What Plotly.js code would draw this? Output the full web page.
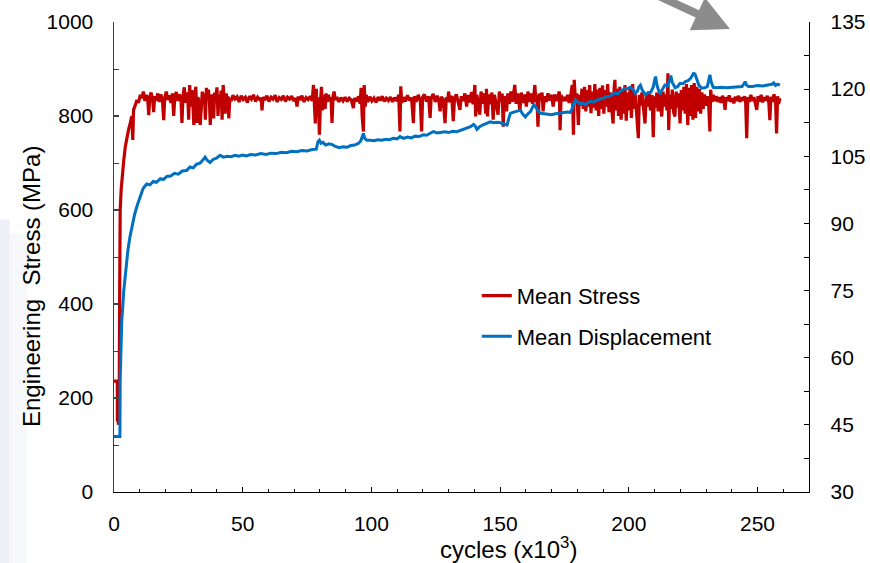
<!DOCTYPE html>
<html>
<head>
<meta charset="utf-8">
<script src="https://cdn.plot.ly/plotly-3.0.1.min.js"></script>
<style>html,body{margin:0;padding:0;background:#fff;}#chart{width:870px;height:563px;}</style>
</head>
<body>
<div id="chart"></div>
<script>
// Mean Stress (MPa) vs cycles (x10^3), [cycles, MPa]
const stressRise = [[0,236],[1.3,236],[1.3,150],[1.5,178],[1.7,143],[2.0,165],[2.2,420],[2.4,600],[2.8,645],[3.3,680],[3.8,706],[4.4,735],[5.0,756],[5.7,772],[6.3,784],[6.9,800],[7.3,749],[7.6,813],[8.2,822],[8.9,834],[9.5,828],[10.2,845]];
const stressEarly = [[10.8,838],[11.4,852],[12.0,832],[12.6,845],[13.1,836],[13.5,802],[13.9,840],[14.4,850],[15.0,836],[15.4,808],[15.8,842],[16.4,833],[17.0,848],[17.6,830],[18.2,846],[18.8,835],[19.3,791],[19.7,838],[20.3,852],[20.9,834],[21.5,844],[22.1,828],[22.7,848],[23.2,800],[23.6,840],[24.2,851],[24.8,832],[25.4,846],[26.0,838],[26.4,785],[26.8,842],[27.3,861],[27.8,828],[28.3,850],[28.7,836],[29.0,792],[29.4,866],[29.8,820],[30.2,855],[30.6,832],[31.0,781],[31.4,848],[31.8,862],[32.2,785],[32.6,840],[33.0,830],[33.5,781],[33.9,838],[34.3,852],[34.7,826],[35.1,848],[35.5,792],[35.9,860],[36.3,834],[36.7,856],[37.1,828],[37.4,781],[37.8,846],[38.2,832],[38.7,795],[39.1,850],[39.5,836],[40.0,861],[40.4,800],[40.8,845],[41.2,828],[41.6,854],[42.0,792],[42.4,866],[42.8,834],[43.2,805],[43.6,848],[44.0,832],[44.3,842],[44.6,795],[45.0,838]];
const stressMid = [[45.5,832],[46.2,844],[47,836],[47.8,841],[48.6,830],[49.4,843],[50.2,835],[51,840],[51.8,829],[52.6,842],[53.4,836],[54.2,845],[55,831],[55.8,840],[56.6,835],[57.2,838],[57.5,812],[57.9,840],[58.6,834],[59.4,843],[60.2,831],[61,840],[61.8,836],[62.6,844],[63.4,830],[64.2,839],[65,835],[65.8,843],[66.6,831],[67.4,840],[68.2,836],[69,842],[69.8,832],[70.6,838],[71.1,820],[71.5,841],[72.2,834],[73,843],[73.8,830],[74.6,839],[75.4,835],[76.2,842],[77,832],[77.5,866],[77.9,820],[78.2,784],[78.6,858],[78.9,800],[79.3,840],[79.8,760],[80.2,830],[80.6,862],[81.0,812],[81.5,845],[82.0,815],[82.4,848],[82.8,830],[83.3,845],[83.8,832],[84.3,840],[84.7,785],[85.1,842],[85.5,852],[86.0,834],[86.6,840]];
const stressLate = [[87.4,830],[88.2,839],[89,832],[89.8,840],[90.6,831],[91.4,838],[92.2,834],[93,817],[93.4,838],[94.2,831],[95,842],[95.6,826],[96.0,860],[96.4,800],[96.9,767],[97.2,866],[97.6,820],[98.0,845],[98.6,830],[99.4,841],[100.2,832],[101,838],[101.8,829],[102.6,840],[103.4,833],[104.2,842],[105,831],[105.8,838],[106.6,833],[107.4,840],[108.2,830],[109,839],[109.8,832],[110.6,845],[111.1,767],[111.4,863],[111.8,828],[112.4,840],[113.2,831],[114,844],[114.8,833],[115.6,839],[116.3,785],[116.7,842],[117.4,830],[118.2,845],[119,832],[119.5,767],[119.9,840],[120.6,846],[121.4,831],[122.2,842],[122.8,796],[123.2,838],[124,847],[124.8,830],[125.6,843],[126.2,832],[126.7,810],[127.2,841],[127.9,834],[128.6,785],[129.1,840],[129.6,830],[130,852],[130.5,829],[131.2,843],[131.8,789],[132.3,838],[133,846],[133.7,830],[134.4,813],[134.9,842],[135.6,832],[136.3,848],[137,820],[137.6,845],[138.3,829],[138.9,851],[139.5,825],[140.2,866],[140.5,799],[141,845],[141.5,828],[142.1,803],[142.6,852],[143.2,826],[143.9,848],[144.4,805],[144.7,858],[145.1,799],[145.6,846],[146.2,825],[146.8,850],[147.3,792],[147.8,845],[148.4,828],[149.2,803],[149.7,852],[150.3,830],[150.8,848],[151.2,777],[151.6,842],[152.1,832],[152.5,810],[153,848],[153.6,826],[154.2,852],[154.8,830],[155.3,845],[155.7,866],[156.2,826],[156.8,848],[157.3,830],[157.7,810],[158.2,850],[158.9,828],[159.5,846],[160.2,820],[160.8,852],[161.4,830],[162,848],[162.6,826],[163.1,845],[163.5,866],[163.9,830],[164.3,845],[164.7,777],[165.2,848],[165.8,832],[166.3,850],[166.7,810],[167.2,842],[167.9,830],[168.6,848],[169.3,833],[170,845],[170.6,820],[171.2,846],[171.9,832],[172.6,842],[173.0,852],[173.3,770],[173.7,845],[174.3,832],[175,840]];
const stressEnd = [[175.6,832],[176.2,845],[176.8,828],[177.4,842],[178.0,866],[178.5,760],[178.8,877],[179.3,830],[179.8,848],[180.4,781],[180.8,845],[181.3,822],[181.8,858],[182.3,815],[182.8,862],[183.3,810],[183.8,855],[184.3,820],[184.8,866],[185.3,806],[185.8,852],[186.3,818],[186.8,868],[187.3,812],[187.8,856],[188.3,800],[188.8,860],[189.3,815],[189.8,865],[190.3,805],[190.8,855],[191.3,820],[191.8,868],[192.3,808],[192.8,850],[193.3,815],[193.9,784],[194.3,860],[194.6,877],[195.0,812],[195.5,858],[196.0,800],[196.5,862],[197.0,792],[197.5,855],[198.0,805],[198.5,866],[199.0,790],[199.5,850],[200.0,812],[200.5,860],[201.0,796],[201.5,868],[201.9,815],[202.4,850],[203.0,808],[203.7,753],[204.1,845],[204.6,822],[205.1,850],[205.6,815],[206.3,784],[206.8,848],[207.3,820],[207.8,852],[208.4,812],[209.0,845],[209.5,755],[209.9,842],[210.4,818],[210.9,850],[211.4,810],[211.9,848],[212.4,815],[212.8,799],[213.3,852],[213.8,820],[214.3,846],[214.8,812],[215.2,891],[215.5,770],[215.9,845],[216.4,815],[216.9,856],[217.4,808],[217.9,799],[218.4,852],[218.9,818],[219.4,848],[219.9,784],[220.4,855],[220.9,812],[221.4,862],[221.9,805],[222.4,868],[222.9,781],[223.4,860],[223.9,800],[224.4,866],[224.9,792],[225.4,870],[225.9,796],[226.4,862],[226.9,810],[227.4,858],[227.9,805],[228.4,850],[228.9,815],[229.4,846],[229.9,822],[230.4,842],[231.0,826],[231.5,767],[231.8,856],[232.3,830],[232.8,845],[233.4,832],[234,842],[234.6,830],[235.2,840],[235.8,828],[236.4,843],[237.0,831],[237.4,813],[237.8,840],[238.4,832],[239,844],[239.6,830],[240.2,838],[240.8,827],[241.4,841],[242,832],[242.6,843],[243.2,830],[243.8,840],[244.4,833],[245,842],[245.4,828],[245.8,753],[246.2,840],[246.8,830],[247.4,845],[248,832],[248.6,840],[249.2,826],[249.7,813],[250.2,842],[250.8,831],[251.4,845],[252,829],[252.6,840],[253.2,833],[253.8,843],[254.4,828],[254.8,791],[255.2,841],[255.8,830],[256.4,846],[257,831],[257.4,763],[257.8,842],[258.2,826],[258.7,838]];

// Mean Displacement vs cycles (x10^3), [cycles, value on right axis]
const dispEarly = [[0,42.4],[2.3,42.4],[2.4,55],[2.6,62],[3.0,68],[3.8,75],[4.6,80],[5.4,84],[6.2,87],[7.0,89.5],[8.0,92],[9.0,94],[10.1,96],[11.3,97.8],[12.7,98.8],[14,98.6],[15.2,99.4],[16.5,99.2],[18,100],[19.2,99.8],[20.5,100.5],[22,100.6],[23.5,101.2],[25,101],[26.5,101.7],[28.2,101.8],[29.5,102.6],[30.8,102.4],[32,103.2],[33.5,103.5],[34.6,104.2],[35.4,104.8],[36.2,104.1],[37.3,103.6],[38.5,104.3],[39.8,104.6],[41.2,105.2],[42.5,104.8],[44,105],[45.5,104.9],[47,105.2],[48.5,105],[50,105.3],[51.5,105.1],[53,105.4],[55,105.3],[57,105.6],[59,105.4],[61,105.7],[63,105.6],[65,105.9],[67,105.8],[69,106.1],[71,106],[73,106.3],[75,106.2],[77,106.5],[78.6,106.6],[79.2,108.2],[79.8,108.6],[80.4,107.9],[81.2,108.1],[82.2,107.5],[83.5,107.8],[84.8,107.6],[86,107.2],[87.5,106.9],[89,107.1],[90.5,107],[92,107.4],[93.5,107.5],[95,107.9],[95.9,108.5],[96.5,109.8],[96.9,110.1],[97.4,109],[98.2,108.6]];
const dispMid = [[99.5,108.6],[101,108.5],[102.5,108.7],[104,108.6],[105.5,108.8],[107,108.7],[108.5,109],[110,108.9],[111.1,109.4],[112.5,109],[114,109.3],[115.5,109.1],[117,109.5],[118.5,109.4],[120.2,109.8],[121.5,109.7],[123,110.2],[124.1,110.5],[125.5,110.2],[127,110.4],[128.5,110.5],[130,110.3],[131.5,110.6],[133.2,110.5],[134.5,110.8],[135.8,111],[137.1,111.3],[138.5,111.6],[139.7,112.1],[140.3,111.8],[141,111],[142,111.6],[143.6,112.1],[145,112.4],[146.2,112.7],[147.5,112.5],[149,112.6],[150.1,112.5],[151.5,112.3],[152.7,112],[153.4,113.5],[154,114.6],[155,114.8],[156.5,115],[157.9,115.3],[158.8,114.4],[159.8,113.8],[160.8,114.5],[161.8,115],[162.5,115.8],[163.1,116.5],[164,115.9],[164.8,115],[165.7,114.6],[167,114.5],[168.5,114.4],[170,114.3],[171.5,114.5],[173,114.6],[174.5,114.7],[176,114.9],[177.2,114.8]];
const dispLate = [[178,115.6],[178.6,116.8],[179.3,117.6],[180,117.2],[181,116.7],[182,116.9],[183.1,116.5],[184.2,117],[185.3,117.3],[186.5,117.1],[187.5,117.6],[188.2,117.6],[189.3,117.9],[190.5,118],[191.2,118.4],[192.1,118.3],[193.3,118.7],[194.7,119.1],[195.8,119],[196.6,119.5],[197.6,119.8],[198.6,120.2],[199.5,120.1],[200.6,120.4],[201.5,120],[202.5,119.1],[203.3,119.5],[203.9,120.5],[204.5,120.9],[205.2,119.8],[206.5,118.7],[207.5,119.2],[208.5,119.3],[209.5,120.5],[210.1,122.2],[210.4,122.8],[210.9,121],[211.6,119.6],[212.2,119.1],[213.2,120.2],[214,120.9],[215,120.7],[215.8,121.8],[216.3,123],[216.9,121.5],[218,120.3],[219,120.6],[219.9,121.3],[221,121.2],[222,121.7],[223,121.9],[224,122.4],[224.6,123.2],[225.1,123.5],[225.7,123.4],[226.4,122],[227.2,120.9],[228.4,120.2],[229.5,120.3],[230.5,120.6],[231.1,122.4],[231.5,123.2],[232,121.6],[232.8,120.4],[234,120.3],[236,120.4],[238,120.3],[240,120.4],[242,120.5],[244,120.6],[244.8,121.2],[245.2,121.7],[245.7,120.9],[246.5,120.6],[248,120.6],[250,120.8],[252,120.7],[254,120.9],[255.5,121.1],[256.3,121.4],[257,120.8],[257.8,121.1],[258.7,120.9]];

const seriesNames = ["Mean Stress", "Mean Displacement"];
const xTitle = "cycles (x10<sup>3</sup>)";
const yTitle = "Engineering\u00a0 Stress (MPa)";

const stress = stressRise.concat(stressEarly, stressMid, stressLate, stressEnd);
const disp = dispEarly.concat(dispMid, dispLate);

const FONT = "Liberation Sans, Arial, sans-serif";
const W = 870, H = 563, M = {l: 114, r: 61, t: 22, b: 71};
const PW = W - M.l - M.r, PH = H - M.t - M.b;
const px2x = px => (px - M.l) / PW;
const py2y = py => (H - M.b - py) / PH;

// decorative gray arrow (pixel geometry -> paper coords)
function arrowPath() {
  const tip = [730, 29], dir = [0.907, 0.42], perp = [-0.42, 0.907];
  const headLen = 36, headHalf = 18, shaftHalf = 4, shaftLen = 90;
  const base = [tip[0] - headLen * dir[0], tip[1] - headLen * dir[1]];
  const tail = [base[0] - shaftLen * dir[0], base[1] - shaftLen * dir[1]];
  const pts = [
    [tail[0] + shaftHalf * perp[0], tail[1] + shaftHalf * perp[1]],
    [base[0] + shaftHalf * perp[0], base[1] + shaftHalf * perp[1]],
    [base[0] + headHalf * perp[0], base[1] + headHalf * perp[1]],
    tip,
    [base[0] - headHalf * perp[0], base[1] - headHalf * perp[1]],
    [base[0] - shaftHalf * perp[0], base[1] - shaftHalf * perp[1]],
    [tail[0] - shaftHalf * perp[0], tail[1] - shaftHalf * perp[1]]
  ];
  return "M" + pts.map(p => px2x(p[0]).toFixed(4) + "," + py2y(p[1]).toFixed(4)).join("L") + "Z";
}

const traces = [
  {x: stress.map(p => p[0]), y: stress.map(p => p[1]), type: "scatter", mode: "lines",
   name: seriesNames[0], legendgroup: "a", line: {color: "#C00000", width: 3.2}, yaxis: "y"},
  {x: disp.map(p => p[0]), y: disp.map(p => p[1]), type: "scatter", mode: "lines",
   name: seriesNames[1], legendgroup: "b", line: {color: "#0070C0", width: 3}, yaxis: "y2"}
];

const layout = {
  width: W, height: H,
  margin: M,
  paper_bgcolor: "#fff", plot_bgcolor: "#fff",
  font: {family: FONT, size: 21, color: "#000"},
  showlegend: true,
  legend: {x: 0.522, y: 0.462, xanchor: "left", yanchor: "top", bgcolor: "rgba(0,0,0,0)",
           font: {family: FONT, size: 22, color: "#000"}, tracegroupgap: 9, itemwidth: 30},
  xaxis: {range: [0, 270], dtick: 50, tick0: 0, ticks: "inside", ticklen: 5, tickwidth: 1.2, tickcolor: "#000",
          minor: {dtick: 10, ticks: "inside", ticklen: 3, tickcolor: "#000", tickwidth: 1},
          showline: true, linecolor: "#000", linewidth: 1.3, showgrid: false, zeroline: false,
          ticklabelstandoff: 12, tickfont: {size: 21}},
  yaxis: {range: [0, 1000], dtick: 200, ticks: "inside", ticklen: 5, tickwidth: 1.2, tickcolor: "#404040",
          minor: {dtick: 100, ticks: "inside", ticklen: 5, tickcolor: "#404040", tickwidth: 1},
          showline: true, linecolor: "#404040", linewidth: 1.5, showgrid: false, zeroline: false,
          ticklabelstandoff: 15, tickfont: {size: 21}},
  yaxis2: {range: [30, 135], dtick: 15, tick0: 30, overlaying: "y", side: "right",
           ticks: "inside", ticklen: 5, tickwidth: 1.2, tickcolor: "#000",
           minor: {dtick: 7.5, ticks: "inside", ticklen: 5, tickcolor: "#000", tickwidth: 1},
           showline: true, linecolor: "#000", linewidth: 1.3, showgrid: false, zeroline: false,
           ticklabelstandoff: 16, tickfont: {size: 21}},
  shapes: [
    {type: "rect", xref: "paper", yref: "paper", x0: -0.164, x1: -0.150, y0: -0.151, y1: 0.58,
     fillcolor: "#edf0f6", line: {width: 0}, layer: "below"},
    {type: "rect", xref: "paper", yref: "paper", x0: -0.150, x1: -0.125, y0: -0.151, y1: 0.55,
     fillcolor: "#f6f8fb", line: {width: 0}, layer: "below"},
    {type: "path", xref: "paper", yref: "paper", path: arrowPath(),
     fillcolor: "#8c8c8c", line: {width: 0}, layer: "above"}
  ],
  annotations: [
    {xref: "paper", yref: "paper", x: px2x(508), y: py2y(548), xanchor: "center", yanchor: "middle",
     text: xTitle, showarrow: false, font: {family: FONT, size: 24, color: "#000"}},
    {xref: "paper", yref: "paper", x: px2x(31), y: py2y(287), xanchor: "center", yanchor: "middle",
     text: yTitle, textangle: -90, showarrow: false, font: {family: FONT, size: 24, color: "#000"}}
  ]
};

Plotly.newPlot("chart", traces, layout, {displayModeBar: false, staticPlot: true});
</script>
</body>
</html>
